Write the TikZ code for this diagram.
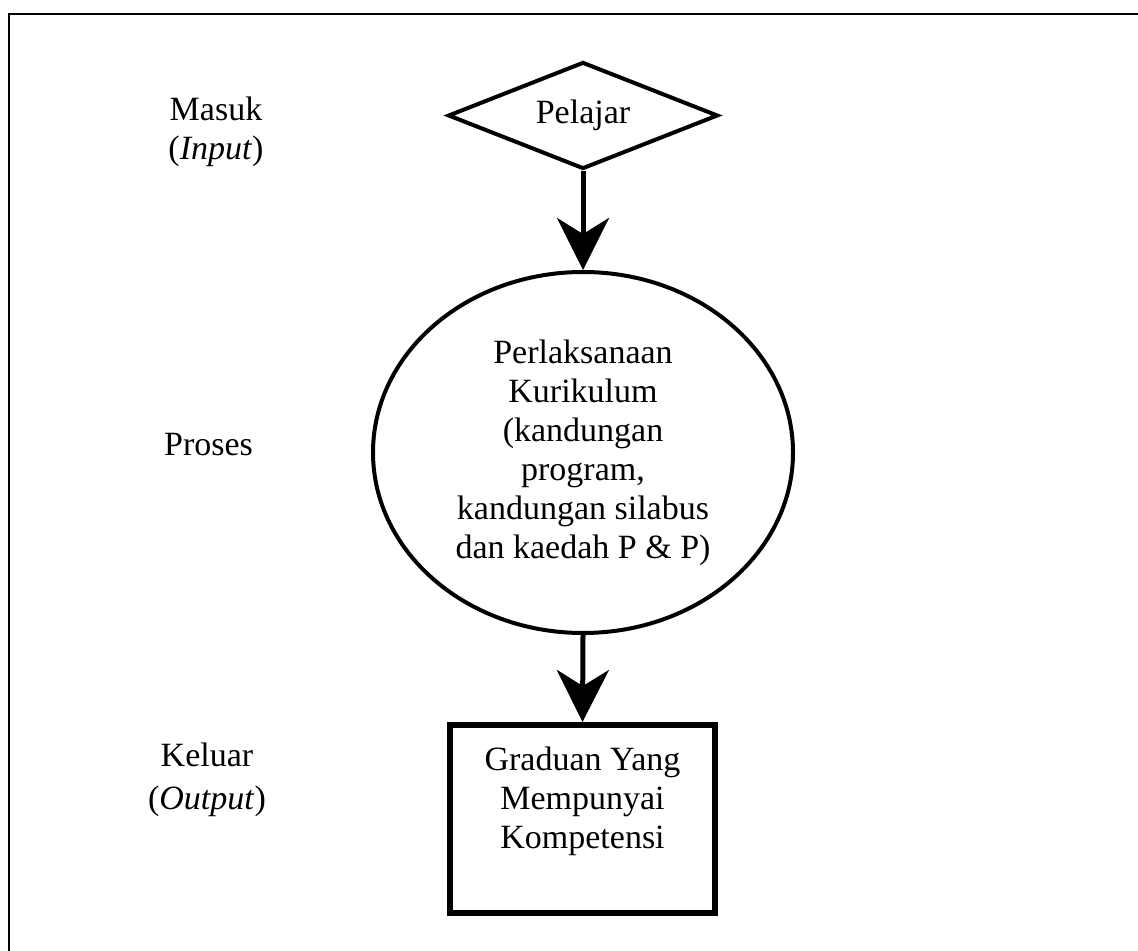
\documentclass[tikz,border=0pt]{standalone}
\usepackage{fontspec}
\setmainfont{Liberation Serif}
\usetikzlibrary{shapes.geometric,arrows.meta}

\begin{document}
\begin{tikzpicture}[x=0.5pt, y=-0.5pt,
  every node/.style={font=\fontsize{17}{19.5}\selectfont},
  sidelabel/.style={align=center},
  flowarrow/.style={line width=2.5pt, -{Stealth[length=26pt, width=26pt, inset=8pt]}}]
\useasboundingbox (0,0) rectangle (1138,951);
\draw[line width=1pt] (9,951) -- (9,14) -- (1138,14);

\node[shape=diamond, aspect=2.5, inner sep=0pt, minimum width=135pt, minimum height=53.5pt, line width=2pt, draw] (pelajar) at (583,115.5){Pelajar};
\node[shape=ellipse, align=center, minimum width=210pt, minimum height=180.5pt, line width=2pt, draw] (kurikulum) at (583,452.5){Perlaksanaan\\Kurikulum\\(kandungan\\program,\\kandungan silabus\\dan kaedah P \& P)};
\node[shape=rectangle, inner sep=0pt, minimum width=132.5pt, minimum height=94pt, line width=3pt, draw] (graduan) at (582.5,819){\parbox[c][91pt][t]{130pt}{\centering\rule{0pt}{21pt}Graduan Yang\\Mempunyai\\Kompetensi}};
\draw[flowarrow](pelajar.south) -- (kurikulum.north);
\draw[flowarrow](kurikulum.south) -- (graduan.north);

\node[sidelabel] (masuk) at (216,132){Masuk\\(\textit{Input})};
\node[sidelabel, anchor=base] (proses) at (208.5,455){Proses};
\node[sidelabel] (keluar) at (207,780){Keluar\\[2pt](\textit{Output})};

\end{tikzpicture}
\end{document}
